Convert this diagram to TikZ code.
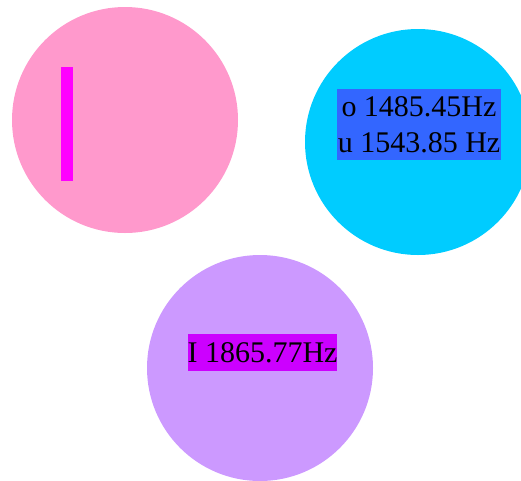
\documentclass[tikz,border=0pt]{standalone}
\usepackage{fontspec}
\setmainfont{Liberation Serif}
\definecolor{pinkc}{HTML}{FF99CC}
\definecolor{cyanc}{HTML}{00CCFF}
\definecolor{lavc}{HTML}{CC99FF}
\definecolor{magbar}{HTML}{FF00FF}
\definecolor{bluebox}{HTML}{3366FF}
\definecolor{purpbox}{HTML}{CC00FF}
\tikzset{
  blob/.style={circle, minimum size=226pt, inner sep=0pt},
  lbl/.style={font=\fontsize{30}{36}\selectfont, align=center, text=black, inner xsep=1pt, inner ysep=3pt},
}
\begin{document}
\begin{tikzpicture}[x=1pt,y=-1pt]
\useasboundingbox (0,0) rectangle (521,480);
\begin{scope}
\clip (0,0) rectangle (521,480);
\node[blob, fill=pinkc] (pink) at (125,120) {};
\node[blob, fill=cyanc] (cyan) at (418,142) {};
\node[blob, fill=lavc] (lav) at (260,368) {};
\end{scope}
\fill[magbar] (61,67) rectangle (73,181);
\node[lbl, fill=bluebox, minimum width=164pt, minimum height=71pt] (f1) at (419,124.5) {o 1485.45Hz\\u 1543.85 Hz};
\node[lbl, fill=purpbox, inner xsep=0pt, minimum height=37pt] (f2) at (262.5,352.5) {I 1865.77Hz};
\end{tikzpicture}
\end{document}
